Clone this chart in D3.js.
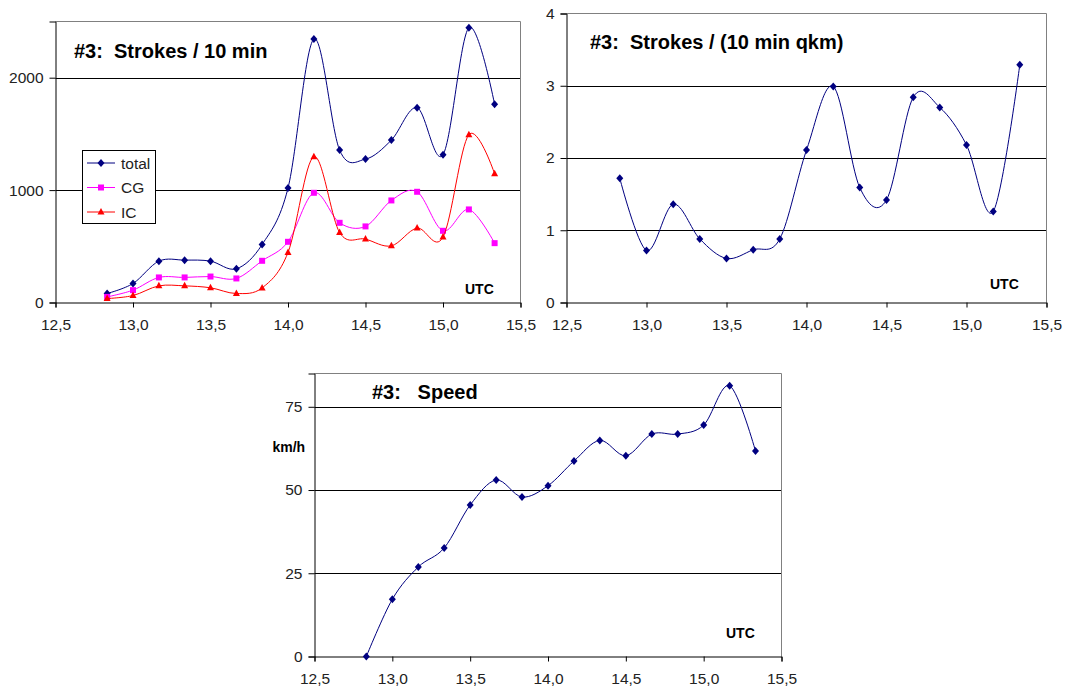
<!DOCTYPE html>
<html>
<head>
<meta charset="utf-8">
<script src="https://cdn.jsdelivr.net/npm/d3@7"></script>
<style>
    body { margin: 0; background: #fff; }
    text { font-family: "Liberation Sans", Arial, sans-serif; }
    .tick text { fill: #222; font-size: 15.5px; }
    .title { font-size: 20px; font-weight: bold; white-space: pre; }
    .unit { font-size: 14px; font-weight: bold; }
</style>
</head>
<body>
<svg id="page" width="1067" height="690"></svg>
<script>
// time of day (UTC hours), one value every 10 minutes
const hours = [12.833, 13.0, 13.167, 13.333, 13.5, 13.667, 13.833, 14.0,
    14.167, 14.333, 14.5, 14.667, 14.833, 15.0, 15.167, 15.333];

// strokes per 10 min
const total = [80, 169, 368, 377, 368, 300, 516, 1018, 2344, 1356, 1276, 1445, 1733, 1315, 2445, 1763];
const cg = [50, 110, 223, 223, 231, 214, 371, 540, 976, 709, 677, 908, 985, 638, 828, 528];
const ic = [35, 62, 148, 148, 131, 80, 130, 445, 1297, 623, 564, 504, 662, 582, 1493, 1145];

// strokes per (10 min qkm)
const density = [1.72, 0.72, 1.36, 0.88, 0.61, 0.73, 0.88, 2.11, 2.99, 1.59, 1.42, 2.84, 2.70, 2.18, 1.26, 3.29];

// speed km/h
const speed = [0, 17.2, 26.9, 32.6, 45.5, 53.0, 47.9, 51.3, 58.7, 64.9, 60.3, 66.8, 66.8, 69.5, 81.3, 61.7];

const xTicks = [12.5, 13.0, 13.5, 14.0, 14.5, 15.0, 15.5];
const strokeTicks = [0, 1000, 2000];
const densityTicks = [0, 1, 2, 3, 4];
const speedTicks = [0, 25, 50, 75];

const legendNames = ["total", "CG", "IC"];

const NAVY = "#000080", MAGENTA = "#ff00ff", RED = "#ff0000";

let svg = d3.select("#page");

function marker(shape) {
    if (shape === "diamond") return "M0,-4L3.5,0L0,4L-3.5,0Z";
    if (shape === "square") return "M-3,-3H3V3H-3Z";
    return "M0,-4L3.5,2.5H-3.5Z";
}

function drawChart(opt) {
    let g = svg.append("g");

    let x = d3.scaleLinear().domain([12.5, 15.5]).range([opt.left, opt.right]);
    let y = d3.scaleLinear().domain([0, opt.yMax]).range([opt.bottom, opt.top]);

    // gridlines
    g.selectAll(".grid")
        .data(opt.yTicks.filter(d => d > 0 && d < opt.yMax))
        .enter().append("line")
        .attr("x1", opt.left).attr("x2", opt.right)
        .attr("y1", d => Math.round(y(d)) + 0.5).attr("y2", d => Math.round(y(d)) + 0.5)
        .attr("stroke", "#000").attr("stroke-width", 1);

    // plot frame (top and right)
    g.append("path")
        .attr("d", `M${opt.left},${opt.top}H${opt.right}V${opt.bottom}`)
        .attr("fill", "none").attr("stroke", "#808080");

    let fmt = d => d3.format(".1f")(d).replace(".", ",");

    let xAxis = d3.axisBottom(x).tickValues(xTicks).tickFormat(fmt)
        .tickSizeOuter(0).tickSize(5).tickPadding(11);
    g.append("g")
        .attr("transform", "translate(0," + opt.bottom + ")")
        .call(xAxis);

    let yAxis = d3.axisLeft(y).tickValues(opt.yTicks).tickFormat(d3.format("d"))
        .tickSizeOuter(0).tickSize(6).tickPadding(6);
    g.append("g")
        .attr("transform", "translate(" + opt.left + ",0)")
        .call(yAxis);

    g.selectAll(".domain").attr("stroke", "#000");
    g.selectAll(".tick line").attr("stroke", "#000");

    // series
    opt.series.forEach(s => {
        let line = d3.line()
            .x((d, i) => x(hours[i]))
            .y(d => y(d))
            .curve(d3.curveCardinal);
        g.append("path")
            .datum(s.values)
            .attr("d", line)
            .attr("fill", "none")
            .attr("stroke", s.color)
            .attr("stroke-width", 1);
        g.selectAll(null)
            .data(s.values)
            .enter().append("path")
            .attr("d", marker(s.shape))
            .attr("transform", (d, i) => "translate(" + x(hours[i]) + "," + y(d) + ")")
            .attr("fill", s.color);
    });

    g.append("text").attr("class", "title")
        .attr("x", opt.titleX).attr("y", opt.titleY)
        .text(opt.title);

    g.append("text").attr("class", "unit")
        .attr("x", opt.utcX).attr("y", opt.utcY)
        .text("UTC");

    return g;
}

let chartA = drawChart({
    left: 55.5, right: 520.5, top: 21.5, bottom: 302.5, yMax: 2500,
    yTicks: strokeTicks, title: "#3:  Strokes / 10 min", titleX: 74, titleY: 58,
    utcX: 465, utcY: 293.5,
    series: [
        {values: total, color: NAVY, shape: "diamond"},
        {values: cg, color: MAGENTA, shape: "square"},
        {values: ic, color: RED, shape: "triangle"}
    ]
});

// legend
let legend = chartA.append("g");
legend.append("rect")
    .attr("x", 82.5).attr("y", 150.5).attr("width", 73).attr("height", 73)
    .attr("fill", "#fff").attr("stroke", "#000");
let legendColors = [NAVY, MAGENTA, RED];
let legendShapes = ["diamond", "square", "triangle"];
legendNames.forEach((name, i) => {
    let ly = 163 + i * 24.5;
    legend.append("line")
        .attr("x1", 87).attr("x2", 115).attr("y1", ly).attr("y2", ly)
        .attr("stroke", legendColors[i]).attr("stroke-width", 1);
    legend.append("path")
        .attr("d", marker(legendShapes[i]))
        .attr("transform", "translate(101," + ly + ")")
        .attr("fill", legendColors[i]);
    legend.append("text")
        .attr("x", 121).attr("y", ly).attr("dy", "0.36em")
        .style("font-size", "15.5px").attr("fill", "#222")
        .text(name);
});

drawChart({
    left: 566.5, right: 1046.5, top: 13.5, bottom: 302.5, yMax: 4,
    yTicks: densityTicks, title: "#3:  Strokes / (10 min qkm)", titleX: 590, titleY: 49,
    utcX: 990, utcY: 289,
    series: [{values: density, color: NAVY, shape: "diamond"}]
});

let chartC = drawChart({
    left: 314.5, right: 781.5, top: 373.5, bottom: 656.5, yMax: 85,
    yTicks: speedTicks, title: "#3:   Speed", titleX: 372, titleY: 399,
    utcX: 726, utcY: 638,
    series: [{values: speed, color: NAVY, shape: "diamond"}]
});

chartC.append("text").attr("class", "unit")
    .attr("x", 272.5).attr("y", 451.5)
    .text("km/h");
</script>
</body>
</html>
